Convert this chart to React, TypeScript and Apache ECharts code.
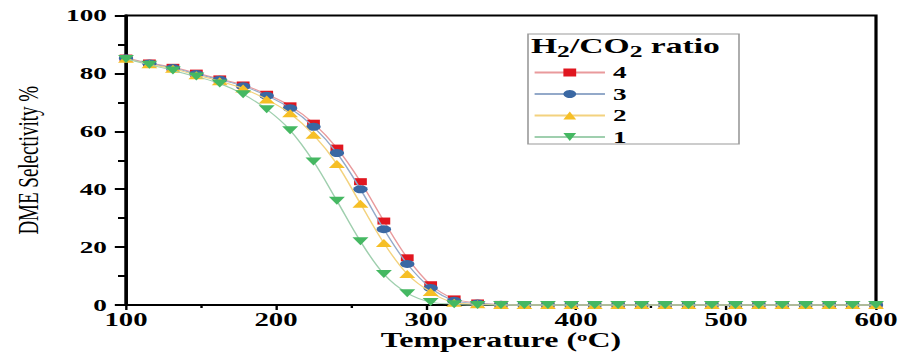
import React, { useEffect, useRef } from 'react';
import * as echarts from 'echarts';

// Temperature (°C) of each measured point
const temperatures = [
  100, 115.6, 131.3, 146.9, 162.5, 178.1, 193.8, 209.4, 225, 240.6, 256.3,
  271.9, 287.5, 303.1, 318.8, 334.4, 350, 365.6, 381.3, 396.9, 412.5, 428.1,
  443.8, 459.4, 475, 490.6, 506.3, 521.9, 537.5, 553.1, 568.8, 584.4, 600,
];

// DME selectivity (%) for each H2/CO2 ratio
const ratio4 = [
  85.3, 83.6, 82.1, 80.1, 78.1, 76.0, 72.8, 68.8, 62.8, 54.2, 42.6, 29.0,
  16.3, 7.0, 2.1, 0.7, 0.2, 0, 0, 0, 0, 0, 0, 0, 0, 0, 0, 0, 0, 0, 0, 0, 0,
];
const ratio3 = [
  85.2, 83.4, 81.9, 79.8, 77.8, 75.6, 72.3, 68.0, 61.6, 52.5, 40.0, 26.2,
  14.2, 5.9, 1.5, 0.5, 0.1, 0, 0, 0, 0, 0, 0, 0, 0, 0, 0, 0, 0, 0, 0, 0, 0,
];
const ratio2 = [
  85.1, 83.2, 81.6, 79.4, 77.3, 74.8, 71.0, 66.2, 58.8, 48.7, 35.0, 21.4,
  10.7, 4.5, 0.8, 0.3, 0, 0, 0, 0, 0, 0, 0, 0, 0, 0, 0, 0, 0, 0, 0, 0, 0,
];
const ratio1 = [
  85.0, 83.0, 81.0, 78.9, 76.5, 72.8, 67.6, 60.4, 49.6, 36.0, 22.0, 10.7,
  4.1, 1.0, 0.3, 0, 0, 0, 0, 0, 0, 0, 0, 0, 0, 0, 0, 0, 0, 0, 0, 0, 0,
];

const seriesNames = ['4', '3', '2', '1'];
const seriesValues = [ratio4, ratio3, ratio2, ratio1];
const markerColors = ['#e0161f', '#3a68a3', '#f6bf26', '#45b862'];
const lineColors = ['#e99a9c', '#93a9c9', '#f3d27e', '#9fcfae'];
const symbols = ['rect', 'circle', 'triangle', 'triangle'];
const symbolSizes = [[8, 7], [9, 8], [10, 8], [10, 8]];
const symbolRotates = [0, 0, 0, 180];

const FONT = "'Liberation Serif', 'Times New Roman', serif";
const BASE_W = 564;
const FULL_W = 902;
const H = 352;
const SX = FULL_W / BASE_W;

export default function App() {
  const ref = useRef<HTMLDivElement>(null);

  useEffect(() => {
    document.body.style.margin = '0';
    document.body.style.overflow = 'hidden';
    if (!ref.current) return;
    const chart = echarts.init(ref.current, null, { renderer: 'svg' });

    const series = seriesNames.map((name, i) => ({
      name,
      type: 'line',
      data: temperatures.map((t, j) => [t, seriesValues[i][j]]),
      smooth: 0.35,
      symbol: symbols[i],
      symbolSize: symbolSizes[i],
      symbolRotate: symbolRotates[i],
      showAllSymbol: true,
      clip: false,
      itemStyle: { color: markerColors[i], opacity: 1 },
      lineStyle: { color: lineColors[i], width: 1 },
      z: 2 + i,
    }));

    chart.setOption({
      animation: false,
      grid: {
        left: 126 / SX,
        right: 26 / SX,
        top: 15.5,
        bottom: 47,
        show: true,
        borderColor: '#000',
        borderWidth: 2,
        containLabel: false,
        outerBoundsMode: 'none',
      },
      xAxis: {
        type: 'value',
        min: 100,
        max: 600,
        interval: 100,
        name: 'Temperature ({sup|o}C)',
        nameLocation: 'middle',
        nameGap: 25,
        nameMoveOverlap: false,
        nameTextStyle: {
          fontFamily: FONT,
          fontWeight: 'bold',
          fontSize: 20,
          lineHeight: 20,
          color: '#000',
          rich: {
            sup: {
              fontFamily: FONT,
              fontWeight: 'bold',
              fontSize: 13,
              lineHeight: 13,
              color: '#000',
              verticalAlign: 'top',
            },
          },
        },
        axisLine: { onZero: false, lineStyle: { color: '#000', width: 2 } },
        axisTick: { length: 5, lineStyle: { color: '#000', width: 1.5 } },
        minorTick: {
          show: true,
          splitNumber: 2,
          length: 3,
          lineStyle: { color: '#000', width: 1.5 },
        },
        splitLine: { show: false },
        axisLabel: {
          fontFamily: FONT,
          fontWeight: 'bold',
          fontSize: 18,
          color: '#000',
          margin: 6,
        },
      },
      yAxis: {
        type: 'value',
        min: 0,
        max: 100,
        interval: 20,
        name: 'DME Selectivity %',
        nameLocation: 'middle',
        nameGap: 52,
        nameMoveOverlap: false,
        nameTextStyle: {
          fontFamily: FONT,
          fontSize: 19,
          color: '#000',
        },
        axisLine: { show: true, lineStyle: { color: '#000', width: 2 } },
        axisTick: { show: true, length: 7, lineStyle: { color: '#000', width: 2 } },
        minorTick: {
          show: true,
          splitNumber: 2,
          length: 5,
          lineStyle: { color: '#000', width: 2 },
        },
        splitLine: { show: false },
        axisLabel: {
          fontFamily: FONT,
          fontWeight: 'bold',
          fontSize: 17,
          color: '#000',
          margin: 12,
        },
      },
      legend: {
        data: seriesNames,
        orient: 'vertical',
        left: 533 / SX,
        top: 64,
        padding: 0,
        itemWidth: 44,
        itemHeight: 10,
        itemGap: 4.5,
        textStyle: {
          fontFamily: FONT,
          fontWeight: 'bold',
          fontSize: 17,
          lineHeight: 16,
          color: '#000',
        },
      },
      graphic: [
        {
          type: 'rect',
          shape: { x: 528 / SX, y: 34, width: (739 - 528) / SX, height: 110 },
          style: { fill: 'rgba(0,0,0,0)', stroke: '#9a9a9a', lineWidth: 1 },
          z: 10,
        },
        {
          type: 'text',
          x: 531 / SX,
          y: 35,
          style: {
            text: '{b|H}{s|2}{b|/CO}{s|2}{b| ratio}',
            verticalAlign: 'top',
            rich: {
              b: {
                fontFamily: FONT,
                fontWeight: 'bold',
                fontSize: 21,
                lineHeight: 22,
                color: '#000',
                verticalAlign: 'top',
              },
              s: {
                fontFamily: FONT,
                fontWeight: 'bold',
                fontSize: 16,
                lineHeight: 16,
                color: '#000',
                verticalAlign: 'top',
                padding: [9, 0, 0, 0],
              },
            },
          },
          z: 10,
        },
      ],
      series,
    });

    return () => chart.dispose();
  }, []);

  return (
    <div style={{ width: FULL_W, height: H, overflow: 'hidden' }}>
      <div
        ref={ref}
        style={{
          width: BASE_W,
          height: H,
          transform: `scaleX(${SX})`,
          transformOrigin: '0 0',
        }}
      />
    </div>
  );
}
